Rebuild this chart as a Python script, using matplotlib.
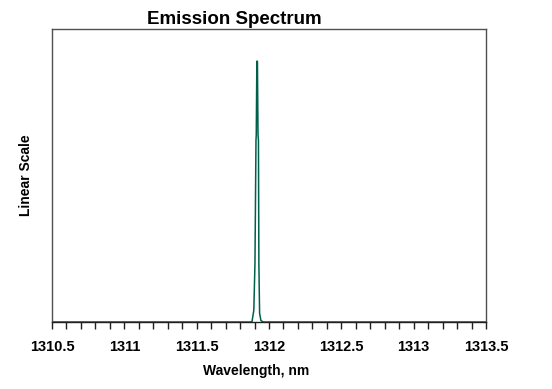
import matplotlib
matplotlib.use('Agg')
import matplotlib.pyplot as plt
from matplotlib.ticker import MultipleLocator, NullLocator

# emission spectrum (linear scale, arbitrary units)
wavelength = [1310.5, 1311.87, 1311.882, 1311.895, 1311.903, 1311.91, 1311.912,
              1311.916, 1311.920, 1311.924, 1311.927, 1311.930, 1311.935,
              1311.944, 1311.96, 1313.5]
intensity = [0.0, 0.0, 0.0, 0.04, 0.2, 0.62, 0.64,
             0.89, 0.89, 0.64, 0.62, 0.2, 0.03,
             0.005, 0.0, 0.0]

xticks = [1310.5, 1311, 1311.5, 1312, 1312.5, 1313, 1313.5]
xticklabels = ['1310.5', '1311', '1311.5', '1312', '1312.5', '1313', '1313.5']

plt.rcParams['font.family'] = ['Liberation Sans', 'DejaVu Sans']

fig = plt.figure(figsize=(5.52, 3.89), dpi=100)
ax = fig.add_axes([52 / 552, 67 / 389, 434 / 552, 293 / 389])

ax.plot(wavelength, intensity, color='#00604c', lw=1.1)

ax.set_xlim(1310.5, 1313.5)
ax.set_ylim(0, 1.0)
ax.set_xticks(xticks)
ax.set_xticklabels(xticklabels, fontsize=10.5, fontweight='bold')
ax.xaxis.set_minor_locator(MultipleLocator(0.1))
ax.yaxis.set_major_locator(NullLocator())
ax.tick_params(axis='x', which='both', direction='out', length=5, width=1,
               color='#202020', pad=8)

for s in ax.spines.values():
    s.set_color('#505050')
    s.set_linewidth(1)
ax.spines['bottom'].set_color('#202020')

ax.set_xlabel('Wavelength, nm', fontsize=10, fontweight='bold', labelpad=6)
ax.xaxis.set_label_coords(0.471, -0.145)
ax.set_ylabel('Linear Scale', fontsize=10, fontweight='bold', labelpad=14)

fig.text(234 / 552, 1 - 20 / 389, 'Emission Spectrum', fontsize=13.5,
         fontweight='bold', ha='center', va='center')

fig.savefig('out.png', dpi=100)
